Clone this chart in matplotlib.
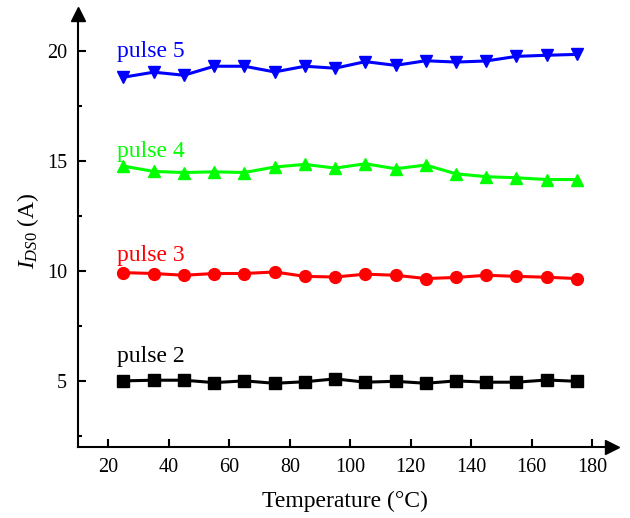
import matplotlib
matplotlib.use('Agg')
import matplotlib.pyplot as plt
from matplotlib.ticker import MultipleLocator

plt.rcParams['font.family'] = 'Liberation Serif'
plt.rcParams['mathtext.fontset'] = 'custom'
plt.rcParams['mathtext.rm'] = 'Liberation Serif'
plt.rcParams['mathtext.it'] = 'Liberation Serif:italic'

# measured drain current per pulse vs temperature
temp = [25, 35, 45, 55, 65, 75, 85, 95, 105, 115, 125, 135, 145, 155, 165, 175]
pulse2 = [4.99, 5.02, 5.02, 4.91, 4.99, 4.88, 4.95, 5.08, 4.93, 4.97, 4.88, 4.99, 4.93, 4.93, 5.03, 4.97]
pulse3 = [9.92, 9.88, 9.80, 9.88, 9.88, 9.95, 9.75, 9.72, 9.85, 9.80, 9.65, 9.70, 9.80, 9.75, 9.71, 9.65]
pulse4 = [14.77, 14.53, 14.48, 14.51, 14.48, 14.73, 14.85, 14.68, 14.88, 14.65, 14.82, 14.42, 14.29, 14.24, 14.16, 14.16]
pulse5 = [18.82, 19.05, 18.91, 19.32, 19.32, 19.06, 19.32, 19.23, 19.53, 19.36, 19.57, 19.51, 19.56, 19.77, 19.82, 19.86]

labels = ['pulse 2', 'pulse 3', 'pulse 4', 'pulse 5']
label_y = [5.83, 10.44, 15.18, 19.73]
colors = ['black', '#ff0000', '#00ff00', '#0000ff']
markers = ['s', 'o', '^', 'v']

fig = plt.figure(figsize=(6.3, 5.18), dpi=100)
ax = fig.add_axes([0.124, 0.138, 0.847, 0.835])

for ys, c, m, lab, ly in zip([pulse2, pulse3, pulse4, pulse5], colors, markers, labels, label_y):
    ax.plot(temp, ys, color=c, marker=m, markersize=8.5, linewidth=2.2)
    ax.text(22.9, ly, lab, color=c, fontsize=17, va='baseline', ha='left')

ax.set_xlim(10, 186.5)
ax.set_ylim(2, 21.7)
ax.xaxis.set_major_locator(MultipleLocator(20))
ax.yaxis.set_major_locator(MultipleLocator(5))
ax.yaxis.set_minor_locator(MultipleLocator(2.5))
ax.set_xticks(range(20, 181, 20))

for side in ['top', 'right']:
    ax.spines[side].set_visible(False)
for side in ['left', 'bottom']:
    ax.spines[side].set_linewidth(1.5)

ax.tick_params(which='major', direction='in', length=6, width=1.5, labelsize=14.5, pad=8)
ax.tick_params(which='minor', direction='in', length=3, width=1.5)

# arrow heads at the end of each axis
ax.plot(1, 0, '>k', markersize=10, transform=ax.transAxes, clip_on=False)
ax.plot(0, 1, '^k', markersize=10, transform=ax.transAxes, clip_on=False)

ax.set_xlabel('Temperature (°C)', fontsize=17, labelpad=10)
ax.set_ylabel(r'$I_{DS0}$ (A)', fontsize=17, labelpad=4)

fig.savefig('out.png', dpi=100)
